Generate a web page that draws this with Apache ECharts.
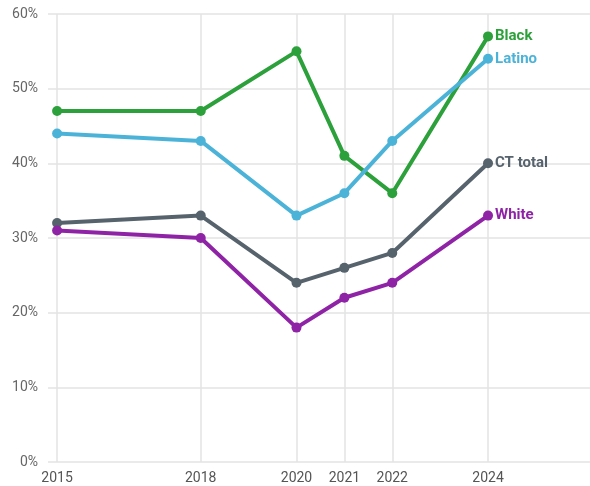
<!DOCTYPE html>
<html>
<head>
<meta charset="utf-8">
<script src="https://cdn.jsdelivr.net/npm/echarts@6/dist/echarts.min.js"></script>
<style>
  html, body { margin: 0; padding: 0; background: #fff; }
  #chart { width: 590px; height: 486px; }
</style>
</head>
<body>
<div id="chart"></div>
<script>
// 年份
const years = [2015, 2018, 2020, 2021, 2022, 2024];
// 各组数据（%）
const black = [47, 47, 55, 41, 36, 57];
const latino = [44, 43, 33, 36, 43, 54];
const ctTotal = [32, 33, 24, 26, 28, 40];
const white = [31, 30, 18, 22, 24, 33];

const groups = [
    { name: "Black", data: black, color: "#2ca03a" },
    { name: "Latino", data: latino, color: "#4cb3d8" },
    { name: "CT total", data: ctTotal, color: "#56626c" },
    { name: "White", data: white, color: "#8f23a6" },
];

const chart = echarts.init(document.getElementById("chart"));

const seriesArr = groups.map(g => {
    return {
        name: g.name,
        type: "line",
        data: years.map((y, i) => [y, g.data[i]]),
        symbol: "circle",
        symbolSize: 10,
        lineStyle: { width: 4, color: g.color },
        itemStyle: { color: g.color },
        // 末端标签
        endLabel: {
            show: true,
            formatter: "{a}",
            color: g.color,
            fontFamily: "Roboto",
            fontWeight: "bold",
            fontSize: 15,
            distance: 7,
        },
    };
});

chart.setOption({
    animation: false,
    textStyle: { fontFamily: "Roboto" },
    grid: {
        left: 48,
        right: 0,
        top: 14,
        bottom: 24,
    },
    xAxis: {
        type: "value",
        min: 2014.81,
        max: 2026.13,
        axisLine: { show: false },
        axisTick: { show: false, customValues: years },
        axisLabel: {
            customValues: years,
            color: "#555",
            fontSize: 14,
            margin: 9,
            formatter: v => String(v),
        },
        splitLine: { show: true, lineStyle: { color: "#e3e3e3", width: 1.5 } },
    },
    yAxis: {
        type: "value",
        min: 0,
        max: 60,
        interval: 10,
        axisLine: { show: false },
        axisTick: { show: false },
        axisLabel: {
            color: "#666",
            fontSize: 14,
            margin: 10,
            formatter: "{value}%",
        },
        splitLine: { lineStyle: { color: "#e3e3e3", width: 1.5 } },
    },
    series: seriesArr,
});
</script>
</body>
</html>
